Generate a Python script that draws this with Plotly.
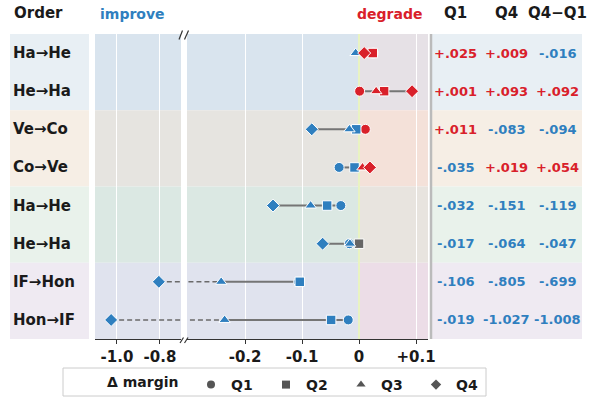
import plotly.graph_objects as go

# ---------------- data ----------------
orders = ["Ha→He", "He→Ha", "Ve→Co", "Co→Ve", "Ha→He", "He→Ha", "IF→Hon", "Hon→IF"]
groups = [0, 0, 1, 1, 2, 2, 3, 3]
q1 = [0.025, 0.001, 0.011, -0.035, -0.032, -0.017, -0.106, -0.019]
q2 = [0.024, 0.044, -0.005, -0.008, -0.056, 0.000, -0.104, -0.049]
q3 = [-0.006, 0.030, -0.017, 0.006, -0.085, -0.016, -0.242, -0.236]
q4 = [0.009, 0.093, -0.083, 0.019, -0.151, -0.064, -0.805, -1.027]
quart_names = ["Q1", "Q2", "Q3", "Q4"]
quart_symbols = ["circle", "square", "triangle-up", "diamond"]
left_ticks = [-1.0, -0.8]
left_ticktext = ["-1.0", "-0.8"]
right_ticks = [-0.2, -0.1, 0.0, 0.1]
right_ticktext = ["-0.2", "-0.1", "0", "+0.1"]
table_headers = ["Q1", "Q4", "Q4−Q1"]

# ---------------- style ----------------
W, H = 599, 397
FONT = "DejaVu Sans"
BLUE = "#2f7fbf"
RED = "#d9202a"
ZGRAY = "#666666"
LINE_GRAY = "#757575"
label_bg = ["#e8eff4", "#f6eee5", "#e9f2eb", "#efeaf2"]
neg_bg = ["#d9e4ee", "#e6e4e0", "#dbe8e3", "#e0e3ee"]
pos_bg = ["#e6e1e6", "#f4e1d9", "#e8e4df", "#ecdde7"]
LEFT_RANGE = [-1.102, -0.702]
RIGHT_RANGE = [-0.302, 0.121]
BREAK = -0.70


def px(x):
    return x / W


def py(y):
    return 1 - y / H


def col(v):
    if v > 0:
        return RED
    if v < 0:
        return BLUE
    return ZGRAY


def fmt(v):
    s = f"{v:+.3f}"
    return s.replace("+0.", "+.").replace("-0.", "-.")


fig = go.Figure()
n = len(orders)

# connecting lines
for i in range(n):
    vals = [q1[i], q2[i], q3[i], q4[i]]
    lo, hi = min(vals), max(vals)
    right_vals = [v for v in vals if v >= BREAK]
    if lo < BREAK:
        rmin = min(right_vals)
        for ax in ("x", "x2"):
            fig.add_trace(go.Scatter(x=[lo, rmin], y=[i, i], xaxis=ax, yaxis="y", mode="lines",
                                     line=dict(color="#6a6a6a", width=1.5, dash="5px,3px"),
                                     showlegend=False, hoverinfo="skip"))
        fig.add_trace(go.Scatter(x=[rmin, hi], y=[i, i], xaxis="x2", yaxis="y", mode="lines",
                                 line=dict(color=LINE_GRAY, width=2),
                                 showlegend=False, hoverinfo="skip"))
    else:
        fig.add_trace(go.Scatter(x=[lo, hi], y=[i, i], xaxis="x2", yaxis="y", mode="lines",
                                 line=dict(color=LINE_GRAY, width=2),
                                 showlegend=False, hoverinfo="skip"))

# markers
msize = {"circle": 10, "square": 9.5, "triangle-up": 10, "diamond": 10}
for qvals, name, sym in zip([q1, q2, q3, q4], quart_names, quart_symbols):
    for axis, cond in (("x", lambda v: v < BREAK), ("x2", lambda v: v >= BREAK)):
        xs = [v for v in qvals if cond(v)]
        yy = [i for i, v in enumerate(qvals) if cond(v)]
        if not xs:
            continue
        fig.add_trace(go.Scatter(x=xs, y=yy, xaxis=axis, yaxis="y", mode="markers", name=name,
                                 marker=dict(symbol=sym, size=msize[sym], color=[col(v) for v in xs],
                                             line=dict(color="white", width=1)),
                                 showlegend=False))

# legend-only traces
for name, sym in zip(quart_names, quart_symbols):
    fig.add_trace(go.Scatter(x=[None], y=[None], xaxis="x2", yaxis="y", mode="markers", name=name,
                             marker=dict(symbol=sym, size=8, color="#555555"), showlegend=True))

shapes = []
for g in range(4):
    y0, y1 = 2 * g - 0.5, 2 * g + 1.5
    shapes.append(dict(type="rect", xref="x", yref="y", x0=LEFT_RANGE[0], x1=LEFT_RANGE[1], y0=y0, y1=y1,
                       fillcolor=neg_bg[g], line=dict(width=0), layer="below"))
    shapes.append(dict(type="rect", xref="x2", yref="y", x0=RIGHT_RANGE[0], x1=0, y0=y0, y1=y1,
                       fillcolor=neg_bg[g], line=dict(width=0), layer="below"))
    shapes.append(dict(type="rect", xref="x2", yref="y", x0=0, x1=RIGHT_RANGE[1], y0=y0, y1=y1,
                       fillcolor=pos_bg[g], line=dict(width=0), layer="below"))
    shapes.append(dict(type="rect", xref="paper", yref="y", x0=px(10), x1=px(89), y0=y0, y1=y1,
                       fillcolor=label_bg[g], line=dict(width=0), layer="below"))
    shapes.append(dict(type="rect", xref="paper", yref="y", x0=px(432), x1=px(582), y0=y0, y1=y1,
                       fillcolor=label_bg[g], line=dict(width=0), layer="below"))
shapes.append(dict(type="line", xref="paper", yref="y", x0=px(431), x1=px(431), y0=-0.5, y1=n - 0.5,
                   line=dict(color="#bbbbbb", width=2.5)))
for (x0, y0, x1, y1) in [(179, 39.5, 182.5, 30.5), (184.5, 39.5, 188.5, 30.5),
                         (180, 343, 183.5, 337.5), (184.5, 343, 188, 337.5)]:
    shapes.append(dict(type="line", xref="paper", yref="paper", x0=px(x0), y0=py(y0), x1=px(x1), y1=py(y1),
                       line=dict(color="#333333", width=1.2)))
shapes.append(dict(type="rect", xref="paper", yref="paper", x0=px(63), x1=px(486), y0=py(396), y1=py(368),
                   line=dict(color="#cccccc", width=1), fillcolor="white", layer="below"))

ann = []
bold = dict(family=FONT, weight="bold")
ann.append(dict(x=px(12), y=py(13), xref="paper", yref="paper", text="Order", showarrow=False,
                xanchor="left", yanchor="middle", font=dict(size=15, color="#1a1a1a", **bold)))
ann.append(dict(x=px(98), y=py(14), xref="paper", yref="paper", text="improve", showarrow=False,
                xanchor="left", yanchor="middle", font=dict(size=14, color=BLUE, **bold)))
ann.append(dict(x=px(424), y=py(14), xref="paper", yref="paper", text="degrade", showarrow=False,
                xanchor="right", yanchor="middle", font=dict(size=14, color=RED, **bold)))
col_x = [455, 506, 557]
for cx, h in zip(col_x, table_headers):
    ann.append(dict(x=px(cx), y=py(13), xref="paper", yref="paper", text=h, showarrow=False,
                    xanchor="center", yanchor="middle", font=dict(size=15, color="#1a1a1a", **bold)))
for i in range(n):
    ann.append(dict(x=px(11), y=i, xref="paper", yref="y", text=orders[i], showarrow=False,
                    xanchor="left", yanchor="middle", font=dict(size=15, color="#1a1a1a", **bold)))
    d = round(q4[i] - q1[i], 3)
    for cx, v in zip(col_x, [q1[i], q4[i], d]):
        ann.append(dict(x=px(cx), y=i, xref="paper", yref="y", text=fmt(v), showarrow=False,
                        xanchor="center", yanchor="middle", font=dict(size=13, color=col(v), **bold)))
ann.append(dict(x=px(105), y=py(382), xref="paper", yref="paper", text="Δ margin", showarrow=False,
                xanchor="left", yanchor="middle", font=dict(size=14, color="#1a1a1a", **bold)))

axis_common = dict(showline=True, linecolor="#333333", linewidth=1.2, ticks="outside", ticklen=4,
                   tickcolor="#333333", tickwidth=1.2, showgrid=True, gridcolor="white", gridwidth=1,
                   tickfont=dict(size=15, color="#1a1a1a", **bold), fixedrange=True,
                   automargin=False)

fig.update_layout(
    width=W, height=H, margin=dict(l=0, r=0, t=0, b=0, autoexpand=False),
    paper_bgcolor="white", plot_bgcolor="rgba(0,0,0,0)",
    font=dict(family=FONT),
    xaxis=dict(domain=[px(95), px(181)], range=LEFT_RANGE, tickvals=left_ticks, ticktext=left_ticktext,
               anchor="y", zeroline=False, **axis_common),
    xaxis2=dict(domain=[px(187), px(428)], range=RIGHT_RANGE, tickvals=right_ticks, ticktext=right_ticktext,
                anchor="y", zeroline=True, zerolinecolor="#e9f3c2", zerolinewidth=2, **axis_common),
    yaxis=dict(domain=[py(339), py(34)], range=[n - 0.5, -0.5], visible=False, fixedrange=True),
    shapes=shapes, annotations=ann,
    showlegend=True,
    legend=dict(orientation="h", x=px(191), y=py(369), xanchor="left", yanchor="top",
                bgcolor="rgba(0,0,0,0)", borderwidth=0, entrywidth=30, entrywidthmode="pixels",
                font=dict(size=14, color="#1a1a1a", **bold), itemclick=False, itemdoubleclick=False),
)

fig.write_html("out.html", config={"displayModeBar": False},
               post_script="document.body.style.margin='0';")
